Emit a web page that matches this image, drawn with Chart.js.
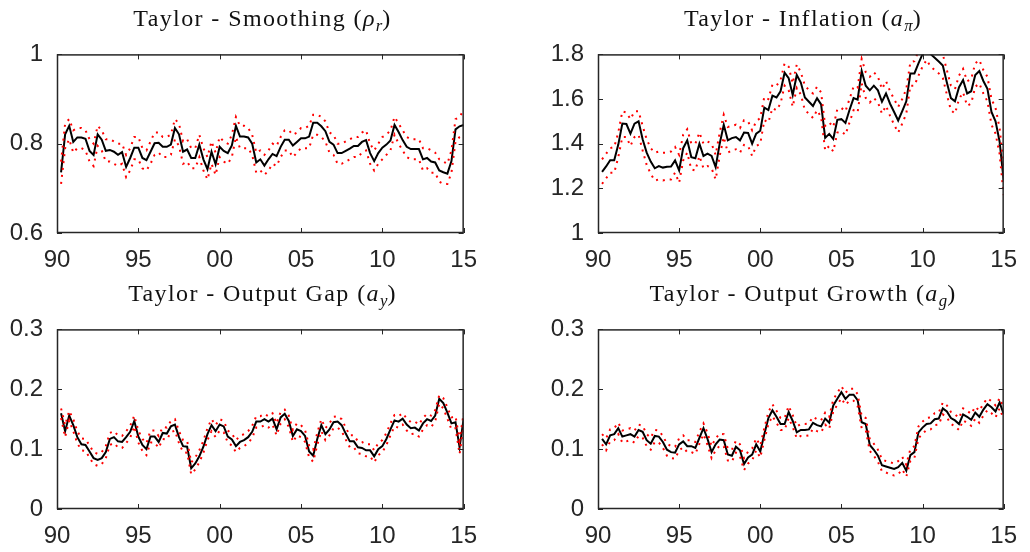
<!DOCTYPE html>
<html>
<head>
<meta charset="utf-8">
<script src="https://cdn.jsdelivr.net/npm/chart.js@4.4.1/dist/chart.umd.min.js"></script>
<style>
  html, body { margin: 0; padding: 0; background: #fff; }
  #wrap { position: relative; width: 1030px; height: 552px; overflow: hidden; }
  canvas { position: absolute; }
  .ttl {
    position: absolute; text-align: center; color: #111;
    font-family: 'Liberation Serif', serif; font-size: 24px; line-height: 24px;
    letter-spacing: 1.4px; white-space: nowrap;
  }
  .ttl sub { font-size: 0.7em; vertical-align: -0.3em; line-height: 0; letter-spacing: 0; }
</style>
</head>
<body>
<div id="wrap"></div>
<script>
// quarterly dates, 1990Q2 .. 2015Q1
const quarters = []
for (let i = 0; i < 100; i++) quarters.push(1990.25 + i * 0.25)

// smoothing coefficient rho_r
const smoothMid = [0.736,0.821,0.840,0.804,0.814,0.814,0.811,0.784,0.775,0.821,
  0.809,0.784,0.786,0.782,0.775,0.781,0.748,0.768,0.791,0.791,
  0.768,0.763,0.782,0.801,0.802,0.793,0.793,0.798,0.835,0.821,
  0.782,0.787,0.768,0.768,0.798,0.765,0.743,0.782,0.754,0.793,
  0.784,0.779,0.796,0.840,0.816,0.816,0.814,0.800,0.758,0.765,
  0.751,0.765,0.777,0.772,0.793,0.809,0.809,0.796,0.804,0.812,
  0.812,0.816,0.847,0.847,0.839,0.828,0.804,0.798,0.779,0.779,
  0.784,0.789,0.795,0.795,0.804,0.808,0.779,0.761,0.779,0.791,
  0.798,0.807,0.842,0.826,0.808,0.793,0.788,0.788,0.788,0.765,
  0.768,0.760,0.758,0.740,0.736,0.733,0.761,0.832,0.839,0.842]
const smoothHi = [0.76,0.845,0.855,0.83,0.835,0.835,0.83,0.81,0.80,0.84,
  0.83,0.81,0.81,0.805,0.80,0.80,0.775,0.79,0.815,0.815,
  0.79,0.785,0.805,0.825,0.825,0.815,0.815,0.82,0.855,0.845,
  0.805,0.81,0.79,0.79,0.82,0.79,0.77,0.805,0.78,0.815,
  0.805,0.80,0.82,0.86,0.84,0.84,0.835,0.82,0.78,0.785,
  0.775,0.785,0.80,0.795,0.815,0.83,0.83,0.82,0.825,0.835,
  0.835,0.84,0.865,0.865,0.86,0.85,0.825,0.82,0.80,0.80,
  0.805,0.81,0.815,0.815,0.825,0.83,0.80,0.785,0.80,0.815,
  0.82,0.83,0.86,0.845,0.83,0.815,0.81,0.81,0.81,0.79,
  0.79,0.785,0.78,0.765,0.76,0.755,0.785,0.855,0.86,0.875]
const smoothLo = [0.71,0.79,0.81,0.78,0.79,0.79,0.785,0.76,0.75,0.795,
  0.785,0.76,0.76,0.755,0.75,0.755,0.725,0.74,0.765,0.765,
  0.745,0.74,0.755,0.775,0.78,0.77,0.77,0.775,0.81,0.795,
  0.755,0.76,0.745,0.745,0.77,0.74,0.72,0.755,0.73,0.77,
  0.76,0.755,0.77,0.815,0.79,0.79,0.79,0.775,0.735,0.74,
  0.73,0.74,0.755,0.75,0.77,0.785,0.785,0.77,0.78,0.79,
  0.79,0.79,0.82,0.82,0.815,0.805,0.78,0.775,0.755,0.755,
  0.76,0.765,0.77,0.77,0.78,0.785,0.755,0.74,0.755,0.765,
  0.775,0.785,0.82,0.80,0.785,0.77,0.765,0.765,0.765,0.74,
  0.745,0.735,0.735,0.715,0.71,0.71,0.735,0.805,0.815,0.82]

// inflation response a_pi
const inflMid = [1.274,1.298,1.326,1.326,1.396,1.49,1.488,1.445,1.49,1.50,
  1.42,1.36,1.32,1.29,1.30,1.293,1.297,1.298,1.325,1.28,
  1.38,1.415,1.34,1.335,1.40,1.345,1.355,1.345,1.295,1.40,
  1.485,1.415,1.425,1.43,1.415,1.45,1.448,1.40,1.445,
  1.458,1.562,1.551,1.615,1.607,1.635,1.718,1.694,1.618,1.708,
  1.674,1.607,1.588,1.569,1.604,1.576,1.426,1.444,1.421,1.507,
  1.510,1.493,1.551,1.604,1.597,1.726,1.660,1.639,1.660,1.639,
  1.588,1.625,1.579,1.542,1.504,1.546,1.590,1.715,1.715,1.760,
  1.801,1.83,1.801,1.785,1.768,1.75,1.674,1.604,1.590,1.653,
  1.685,1.625,1.635,1.708,1.726,1.681,1.646,1.542,1.500,1.410,1.236]
const inflHi = [1.33,1.355,1.38,1.385,1.45,1.545,1.54,1.51,1.545,1.545,
  1.48,1.42,1.38,1.36,1.365,1.36,1.36,1.365,1.385,1.35,
  1.44,1.465,1.40,1.40,1.45,1.40,1.41,1.40,1.35,1.45,
  1.53,1.475,1.48,1.485,1.47,1.505,1.50,1.46,1.50,
  1.515,1.61,1.60,1.665,1.66,1.685,1.76,1.745,1.67,1.755,
  1.72,1.66,1.64,1.625,1.655,1.63,1.48,1.495,1.475,1.555,
  1.56,1.545,1.60,1.655,1.65,1.78,1.72,1.70,1.72,1.70,
  1.645,1.68,1.635,1.60,1.565,1.60,1.645,1.765,1.77,1.815,
  1.855,1.88,1.855,1.84,1.82,1.80,1.73,1.66,1.645,1.705,
  1.735,1.68,1.69,1.76,1.775,1.73,1.70,1.60,1.56,1.47,1.30]
const inflLo = [1.22,1.245,1.27,1.27,1.34,1.43,1.43,1.39,1.43,1.44,
  1.37,1.305,1.265,1.235,1.24,1.235,1.24,1.24,1.27,1.225,
  1.325,1.36,1.285,1.28,1.345,1.29,1.30,1.29,1.24,1.345,
  1.43,1.36,1.37,1.375,1.36,1.395,1.39,1.345,1.39,
  1.40,1.505,1.495,1.56,1.55,1.58,1.66,1.64,1.565,1.65,
  1.62,1.55,1.535,1.515,1.55,1.52,1.37,1.39,1.365,1.45,
  1.455,1.44,1.495,1.55,1.54,1.67,1.605,1.585,1.605,1.585,
  1.535,1.57,1.525,1.485,1.45,1.49,1.535,1.66,1.66,1.705,
  1.745,1.775,1.745,1.73,1.715,1.695,1.62,1.55,1.535,1.60,
  1.63,1.57,1.58,1.655,1.67,1.625,1.59,1.485,1.445,1.355,1.17]

// output gap response a_y
const gapMid = [0.160,0.130,0.156,0.140,0.120,0.108,0.107,0.096,0.085,0.082,
  0.085,0.095,0.117,0.120,0.113,0.112,0.120,0.129,0.147,0.121,
  0.107,0.100,0.121,0.121,0.112,0.127,0.126,0.138,0.141,0.120,
  0.105,0.104,0.068,0.076,0.088,0.104,0.125,0.140,0.130,0.141,
  0.138,0.121,0.116,0.105,0.112,0.115,0.120,0.129,0.146,0.146,
  0.150,0.146,0.151,0.133,0.153,0.159,0.147,0.122,0.133,0.130,
  0.122,0.096,0.089,0.117,0.140,0.125,0.133,0.145,0.146,0.140,
  0.126,0.113,0.113,0.103,0.102,0.098,0.098,0.088,0.100,0.105,
  0.117,0.133,0.148,0.146,0.151,0.141,0.135,0.136,0.131,0.143,
  0.150,0.147,0.156,0.184,0.177,0.161,0.143,0.145,0.103,0.151]
const gapHi = [0.168,0.14,0.164,0.15,0.13,0.118,0.117,0.106,0.095,0.092,
  0.095,0.105,0.127,0.13,0.123,0.122,0.13,0.139,0.156,0.131,
  0.117,0.11,0.131,0.131,0.122,0.137,0.136,0.147,0.15,0.13,
  0.115,0.114,0.078,0.086,0.098,0.114,0.135,0.15,0.14,0.15,
  0.147,0.131,0.126,0.115,0.122,0.125,0.13,0.139,0.155,0.155,
  0.159,0.155,0.16,0.143,0.162,0.166,0.156,0.132,0.143,0.14,
  0.132,0.106,0.099,0.127,0.15,0.135,0.143,0.154,0.155,0.15,
  0.136,0.123,0.123,0.113,0.112,0.108,0.108,0.098,0.11,0.115,
  0.127,0.143,0.157,0.155,0.16,0.151,0.145,0.146,0.141,0.152,
  0.159,0.156,0.165,0.19,0.185,0.17,0.153,0.155,0.115,0.16]
const gapLo = [0.152,0.12,0.148,0.13,0.11,0.098,0.097,0.086,0.075,0.072,
  0.075,0.085,0.107,0.11,0.103,0.102,0.11,0.119,0.138,0.111,
  0.097,0.09,0.111,0.111,0.102,0.117,0.116,0.128,0.131,0.11,
  0.095,0.094,0.058,0.066,0.078,0.094,0.115,0.13,0.12,0.131,
  0.128,0.111,0.106,0.095,0.102,0.105,0.11,0.119,0.136,0.136,
  0.14,0.136,0.141,0.123,0.143,0.15,0.137,0.112,0.123,0.12,
  0.112,0.086,0.079,0.107,0.13,0.115,0.123,0.135,0.136,0.13,
  0.116,0.103,0.103,0.093,0.092,0.088,0.088,0.078,0.09,0.095,
  0.107,0.123,0.138,0.136,0.141,0.131,0.125,0.126,0.121,0.133,
  0.14,0.137,0.146,0.176,0.168,0.151,0.133,0.135,0.092,0.14]

// output growth response a_g
const growMid = [0.117,0.108,0.123,0.125,0.135,0.121,0.123,0.125,0.121,0.132,
  0.129,0.115,0.109,0.122,0.121,0.112,0.099,0.095,0.094,0.108,
  0.113,0.105,0.105,0.102,0.119,0.135,0.117,0.095,0.108,0.116,
  0.115,0.091,0.089,0.104,0.098,0.075,0.086,0.091,0.108,0.096,
  0.125,0.152,0.165,0.154,0.142,0.142,0.162,0.147,0.128,0.132,
  0.132,0.133,0.144,0.140,0.138,0.151,0.144,0.173,0.184,0.195,
  0.184,0.191,0.191,0.182,0.145,0.142,0.107,0.099,0.089,0.073,
  0.071,0.069,0.067,0.070,0.077,0.064,0.090,0.095,0.128,0.136,
  0.142,0.143,0.150,0.151,0.168,0.163,0.152,0.148,0.142,0.158,
  0.154,0.149,0.161,0.154,0.166,0.175,0.170,0.163,0.178,0.159]
const growHi = [0.125,0.118,0.133,0.135,0.144,0.131,0.133,0.135,0.131,0.141,
  0.139,0.125,0.119,0.132,0.131,0.122,0.109,0.105,0.104,0.118,
  0.123,0.115,0.115,0.112,0.129,0.143,0.127,0.105,0.118,0.126,
  0.125,0.101,0.099,0.114,0.108,0.085,0.096,0.101,0.118,0.106,
  0.135,0.162,0.175,0.164,0.152,0.152,0.172,0.157,0.138,0.142,
  0.142,0.143,0.154,0.15,0.148,0.161,0.154,0.183,0.194,0.205,
  0.194,0.201,0.201,0.192,0.155,0.152,0.117,0.109,0.099,0.083,
  0.08,0.078,0.076,0.08,0.087,0.074,0.1,0.105,0.138,0.146,
  0.152,0.153,0.16,0.161,0.178,0.173,0.162,0.158,0.152,0.168,
  0.164,0.159,0.171,0.164,0.176,0.185,0.18,0.173,0.185,0.17]
const growLo = [0.108,0.098,0.113,0.115,0.125,0.111,0.113,0.115,0.111,0.122,
  0.119,0.105,0.099,0.112,0.111,0.102,0.089,0.085,0.084,0.098,
  0.103,0.095,0.095,0.092,0.109,0.125,0.107,0.085,0.098,0.106,
  0.105,0.081,0.079,0.094,0.088,0.065,0.076,0.081,0.098,0.086,
  0.115,0.142,0.155,0.144,0.132,0.132,0.152,0.137,0.118,0.122,
  0.122,0.123,0.134,0.13,0.128,0.141,0.134,0.163,0.174,0.185,
  0.174,0.181,0.181,0.172,0.135,0.132,0.097,0.089,0.079,0.063,
  0.061,0.058,0.056,0.058,0.066,0.054,0.08,0.085,0.118,0.126,
  0.132,0.133,0.14,0.141,0.158,0.153,0.142,0.138,0.132,0.148,
  0.144,0.139,0.151,0.144,0.156,0.165,0.16,0.153,0.168,0.15]

const axisColor = '#262626'
const yAxisW = 57
const xAxisH = 45
const padT = 18
const padR = 22

// box around the plot area with inward ticks on all four sides
const boxTicks = {
  id: 'boxTicks',
  afterDatasetsDraw(chart) {
    const {ctx, chartArea: a, scales: {x, y}} = chart
    const len = 5
    ctx.save()
    ctx.strokeStyle = axisColor
    ctx.lineWidth = 1
    ctx.beginPath()
    x.ticks.forEach((t) => {
      const px = Math.round(x.getPixelForValue(t.value)) + 0.5
      ctx.moveTo(px, a.bottom); ctx.lineTo(px, a.bottom - len)
      ctx.moveTo(px, a.top); ctx.lineTo(px, a.top + len)
    })
    y.ticks.forEach((t) => {
      const py = Math.round(y.getPixelForValue(t.value)) + 0.5
      ctx.moveTo(a.left, py); ctx.lineTo(a.left + len, py)
      ctx.moveTo(a.right, py); ctx.lineTo(a.right - len, py)
    })
    ctx.stroke()
    ctx.lineWidth = 1.5
    ctx.strokeRect(a.left + 0.5, a.top + 0.5, a.width - 1, a.height - 1)
    ctx.restore()
  }
}

const panels = [
  {title: 'Taylor - Smoothing (<i>ρ</i><sub><i>r</i></sub>)', mid: smoothMid, hi: smoothHi, lo: smoothLo,
   min: 0.6, max: 1, step: 0.2, rect: {left: 57, top: 44, right: 468, bottom: 233}},
  {title: 'Taylor - Inflation (<i>a</i><sub><i>π</i></sub>)', mid: inflMid, hi: inflHi, lo: inflLo,
   min: 1, max: 1.8, step: 0.2, rect: {left: 598, top: 44, right: 1008, bottom: 233}},
  {title: 'Taylor - Output Gap (<i>a</i><sub><i>y</i></sub>)', mid: gapMid, hi: gapHi, lo: gapLo,
   min: 0, max: 0.3, step: 0.1, rect: {left: 57, top: 319, right: 468, bottom: 509}},
  {title: 'Taylor - Output Growth (<i>a</i><sub><i>g</i></sub>)', mid: growMid, hi: growHi, lo: growLo,
   min: 0, max: 0.3, step: 0.1, rect: {left: 598, top: 319, right: 1008, bottom: 509}},
]

const wrap = document.getElementById('wrap')
const toXY = (arr) => arr.map((v, i) => ({x: quarters[i], y: v}))
const tickFont = {family: "'Liberation Sans', Arial, sans-serif", size: 24}

panels.forEach((p) => {
  const r = p.rect
  const cv = document.createElement('canvas')
  cv.width = yAxisW + (r.right - r.left) + padR
  cv.height = padT + (r.bottom - r.top) + xAxisH
  cv.style.left = (r.left - yAxisW) + 'px'
  cv.style.top = (r.top - padT) + 'px'
  wrap.appendChild(cv)

  const t = document.createElement('div')
  t.className = 'ttl'
  t.style.left = r.left + 'px'
  t.style.width = (r.right - r.left) + 'px'
  t.style.top = (r.top - 38) + 'px'
  t.innerHTML = p.title
  wrap.appendChild(t)

  const band = (arr) => ({
    data: toXY(arr),
    borderColor: '#ff0000',
    borderWidth: 2,
    borderDash: [2, 5],
    pointRadius: 0,
    tension: 0,
  })

  new Chart(cv, {
    type: 'line',
    data: {
      datasets: [
        band(p.hi),
        band(p.lo),
        {data: toXY(p.mid), borderColor: '#000', borderWidth: 2, pointRadius: 0, tension: 0},
      ],
    },
    options: {
      responsive: false,
      animation: false,
      events: [],
      layout: {padding: {top: padT, right: padR, left: 0, bottom: 0}},
      plugins: {legend: {display: false}, tooltip: {enabled: false}, title: {display: false}},
      scales: {
        x: {
          type: 'linear', min: 1990, max: 2015,
          grid: {display: false, drawTicks: false},
          border: {display: false},
          ticks: {
            stepSize: 5, color: axisColor, font: tickFont, padding: 13, maxRotation: 0,
            callback: (v) => String(v % 100).padStart(2, '0'),
          },
          afterFit: (s) => { s.height = xAxisH },
        },
        y: {
          min: p.min, max: p.max,
          grid: {display: false, drawTicks: false},
          border: {display: false},
          ticks: {
            stepSize: p.step, color: axisColor, font: tickFont, padding: 14,
            callback: (v) => String(Math.round(v * 10) / 10),
          },
          afterFit: (s) => { s.width = yAxisW },
        },
      },
    },
    plugins: [boxTicks],
  })
})
</script>
</body>
</html>
